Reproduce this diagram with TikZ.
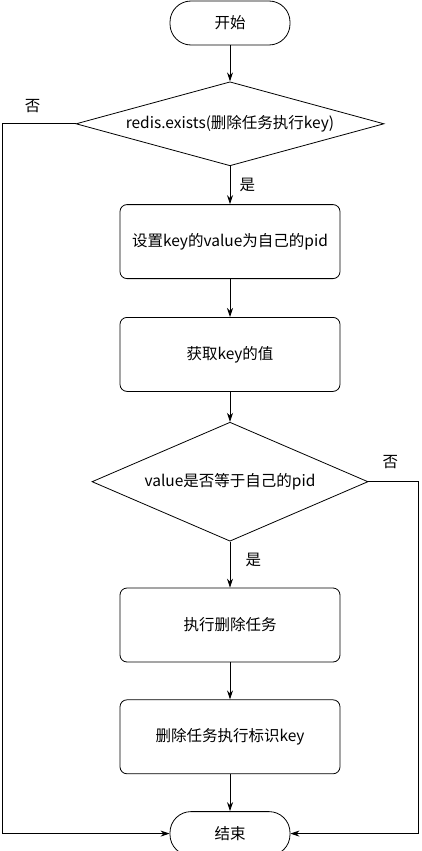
\documentclass[tikz,border=0pt]{standalone}
\usepackage{fontspec}
\setmainfont{Noto Sans CJK SC}
\usetikzlibrary{arrows.meta,positioning,shapes.geometric}

\begin{document}
\begin{tikzpicture}[
  x=1pt,y=1pt,
  font=\fontsize{15.5}{18}\selectfont,
  term/.style={draw,line width=0.8pt,rounded corners=21pt,
               minimum width=120pt,minimum height=44pt},
  box/.style={draw,line width=0.8pt,rounded corners=7pt,
              minimum width=220pt,minimum height=74pt},
  cond/.style={draw,line width=0.8pt,diamond,inner sep=0pt},
  arr/.style={-{Stealth[length=9pt,width=6pt]},line width=0.8pt},
  node distance=37pt
]
\useasboundingbox (0,0) rectangle (422,-851);
\node[term](start) at (230,-23){开始};
\node[cond,aspect=3.67,minimum width=308pt,minimum height=84pt,
      below=36pt of start](exists){redis.exists(删除任务执行key)};
\node[box,below=38pt of exists](setval){设置key的value为自己的pid};
\node[box,below=38pt of setval](getval){获取key的值};
\node[cond,aspect=2.32,minimum width=276pt,minimum height=119pt,
      below=30pt of getval](check){value是否等于自己的pid};
\node[box,below=46pt of check](runjob){执行删除任务};
\node[box,below=of runjob](delkey){删除任务执行标识key};
\node[term,below=of delkey](finish){结束};
\coordinate[left=73pt of exists.west](lrail);
\coordinate[right=50pt of check.east](rrail);
\draw[arr](start)--(exists);
\draw[arr](exists)--node[right=6pt]{是}(setval);
\draw[arr](setval)--(getval);
\draw[arr](getval)--(check);
\draw[arr](check)--node[right=12pt,pos=0.4]{是}(runjob);
\draw[arr](runjob)--(delkey);
\draw[arr](delkey)--(finish);
\draw[arr](exists.west)--node[above=7pt,pos=0.59]{否}(lrail)|-(finish.west);
\draw[arr](check.east)--node[above=9pt,pos=0.44]{否}(rrail)|-(finish.east);
\end{tikzpicture}
\end{document}
